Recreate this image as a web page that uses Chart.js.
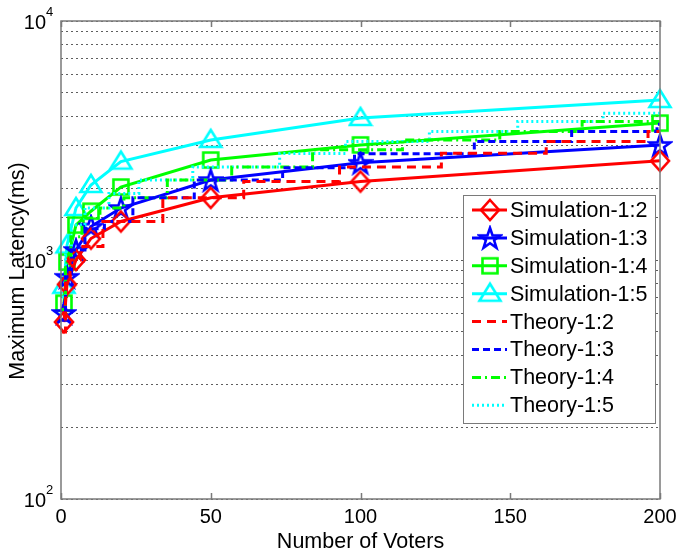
<!DOCTYPE html>
<html>
<head>
<meta charset="utf-8">
<script src="https://cdn.jsdelivr.net/npm/chart.js@4.4.1/dist/chart.umd.min.js"></script>
<style>
  body { margin: 0; background: #fff; }
  #wrap { width: 680px; height: 554px; }
</style>
</head>
<body>
<div id="wrap"><canvas id="latencyChart" width="680" height="554"></canvas></div>
<script>
'use strict';

// DATA
// simulation runs
const simVoters = [1, 2, 5, 10, 20, 50, 100, 200];
const sim12 = [550, 790, 1000, 1230, 1450, 1820, 2130, 2600];
const sim13 = [600, 850, 1100, 1380, 1650, 2160, 2550, 3030];
const sim14 = [660, 980, 1400, 1600, 2020, 2620, 3030, 3740];
const sim15 = [780, 1150, 1650, 2060, 2580, 3180, 3930, 4670];

// theory curves - each value holds until the next voter count
const theoryVoters12 = [0.3, 1.5, 3, 6.5, 14, 34, 61, 93, 127, 162, 196, 200];
const theory12 = [500, 800, 1000, 1140, 1450, 1820, 2130, 2450, 2800, 3130, 3450, 3450];
const theoryVoters13 = [0.3, 1.5, 3.5, 8, 14.5, 24, 44.5, 74, 98, 138, 170.5, 199, 200];
const theory13 = [560, 850, 1100, 1350, 1450, 1820, 2160, 2430, 2780, 3130, 3450, 3700, 3700];
const theoryVoters14 = [0.3, 1.5, 3.3, 7, 13, 21, 35.5, 57, 84, 114, 146.5, 174, 200];
const theory14 = [620, 950, 1250, 1500, 1650, 1820, 2160, 2450, 2890, 3180, 3450, 3800, 3800];
const theoryVoters15 = [0.3, 1.5, 3.5, 8, 16, 26, 44, 73, 95, 123, 152.5, 181, 200];
const theory15 = [700, 1050, 1400, 1650, 1900, 2160, 2450, 2790, 3130, 3450, 3800, 4110, 4110];

// axis ticks
const xTicks = [0, 50, 100, 150, 200];
const yDecades = [2, 3, 4];

const RED = '#ff0000';
const BLUE = '#0000ff';
const GREEN = '#00ff00';
const CYAN = '#00ffff';
const FONT = '"Liberation Sans", Arial, sans-serif';

const toPoints = (xs, ys) => xs.map((x, i) => ({ x: x, y: ys[i] }));

// MARKERS (hollow, drawn once into small canvases)
const makeMarker = function (color, drawPath) {
  const c = document.createElement('canvas');
  c.width = 26;
  c.height = 26;
  const g = c.getContext('2d');
  g.strokeStyle = color;
  g.lineWidth = 2.6;
  g.lineJoin = 'miter';
  g.beginPath();
  drawPath(g, 13, 13);
  g.closePath();
  g.stroke();
  return c;
};

const diamond = makeMarker(RED, function (g, cx, cy) {
  g.moveTo(cx, cy - 10);
  g.lineTo(cx + 9, cy);
  g.lineTo(cx, cy + 10);
  g.lineTo(cx - 9, cy);
});

const pentagram = makeMarker(BLUE, function (g, cx, cy) {
  for (let i = 0; i < 10; i++) {
    const r = i % 2 === 0 ? 11 : 4.3;
    const a = -Math.PI / 2 + (i * Math.PI) / 5;
    const px = cx + r * Math.cos(a);
    const py = cy + 1 + r * Math.sin(a);
    if (i === 0) g.moveTo(px, py);
    else g.lineTo(px, py);
  }
});

const square = makeMarker(GREEN, function (g, cx, cy) {
  g.rect(cx - 7.5, cy - 7.5, 15, 15);
});

const triangle = makeMarker(CYAN, function (g, cx, cy) {
  g.moveTo(cx, cy - 10);
  g.lineTo(cx + 10.5, cy + 7);
  g.lineTo(cx - 10.5, cy + 7);
});

const simSet = (label, ys, color, marker) => ({
  label: label,
  data: toPoints(simVoters, ys),
  borderColor: color,
  backgroundColor: color,
  borderWidth: 3,
  pointStyle: marker,
  pointRadius: 10,
  clip: false,
  order: 2,
});

const theorySet = (label, xs, ys, color, dash) => ({
  label: label,
  data: toPoints(xs, ys),
  borderColor: color,
  backgroundColor: color,
  borderWidth: 3,
  borderDash: dash,
  stepped: true,
  pointRadius: 0,
  clip: false,
  order: 1,
});

const datasets = [
  simSet('Simulation-1:2', sim12, RED, diamond),
  simSet('Simulation-1:3', sim13, BLUE, pentagram),
  simSet('Simulation-1:4', sim14, GREEN, square),
  simSet('Simulation-1:5', sim15, CYAN, triangle),
  theorySet('Theory-1:2', theoryVoters12, theory12, RED, [9, 6]),
  theorySet('Theory-1:3', theoryVoters13, theory13, BLUE, [7, 4]),
  theorySet('Theory-1:4', theoryVoters14, theory14, GREEN, [9, 4, 2, 4]),
  theorySet('Theory-1:5', theoryVoters15, theory15, CYAN, [2, 3]),
];

// AXES, BOX AND LEGEND
const frame = {
  id: 'frame',
  afterDatasetsDraw(chart) {
    const { ctx, chartArea: a, scales } = chart;
    const xs = scales.x;
    const ys = scales.y;
    ctx.save();

    // box
    ctx.strokeStyle = '#7a7a7a';
    ctx.lineWidth = 1.5;
    ctx.strokeRect(a.left, a.top, a.right - a.left, a.bottom - a.top);

    // inner x ticks, top and bottom
    ctx.beginPath();
    xTicks.forEach(function (t) {
      const px = Math.round(xs.getPixelForValue(t)) + 0.5;
      ctx.moveTo(px, a.bottom);
      ctx.lineTo(px, a.bottom - 6);
      ctx.moveTo(px, a.top);
      ctx.lineTo(px, a.top + 6);
    });
    ctx.stroke();

    // tick labels
    ctx.fillStyle = '#000';
    ctx.font = '20px ' + FONT;
    ctx.textAlign = 'center';
    ctx.textBaseline = 'middle';
    xTicks.forEach(function (t) {
      ctx.fillText(String(t), xs.getPixelForValue(t), a.bottom + 18);
    });

    yDecades.forEach(function (d) {
      const py = ys.getPixelForValue(Math.pow(10, d));
      ctx.font = '20px ' + FONT;
      ctx.textAlign = 'right';
      ctx.textBaseline = 'middle';
      ctx.fillText('10', a.left - 15, py + 2);
      ctx.font = '13px ' + FONT;
      ctx.textAlign = 'left';
      ctx.fillText(String(d), a.left - 15, py - 9);
    });

    // axis titles
    ctx.font = '21.5px ' + FONT;
    ctx.textAlign = 'center';
    ctx.textBaseline = 'middle';
    ctx.fillText('Number of Voters', (a.left + a.right) / 2, 542);
    ctx.translate(18, 271);
    ctx.rotate(-Math.PI / 2);
    ctx.fillText('Maximum Latency(ms)', 0, 0);
    ctx.restore();
  },
  afterDraw(chart) {
    const ctx = chart.ctx;
    const box = { left: 463, top: 195, width: 192, height: 228 };
    ctx.save();
    ctx.fillStyle = '#fff';
    ctx.fillRect(box.left, box.top, box.width, box.height);
    ctx.strokeStyle = '#7a7a7a';
    ctx.lineWidth = 1;
    ctx.strokeRect(box.left + 0.5, box.top + 0.5, box.width, box.height);

    chart.data.datasets.forEach(function (ds, i) {
      const y = box.top + 15 + i * 27.9;
      ctx.strokeStyle = ds.borderColor;
      ctx.lineWidth = 3;
      ctx.setLineDash(ds.borderDash || []);
      ctx.beginPath();
      ctx.moveTo(472, y);
      ctx.lineTo(507, y);
      ctx.stroke();
      ctx.setLineDash([]);
      if (ds.pointRadius > 0) {
        const m = ds.pointStyle;
        ctx.drawImage(m, 490 - m.width / 2, y - m.height / 2);
      }
      ctx.fillStyle = '#000';
      ctx.font = '21.5px ' + FONT;
      ctx.textAlign = 'left';
      ctx.textBaseline = 'middle';
      ctx.fillText(ds.label, 510, y + 1);
    });
    ctx.restore();
  },
};

// CHART
const ctx = document.getElementById('latencyChart').getContext('2d');

const chart = new Chart(ctx, {
  type: 'line',
  data: { datasets: datasets },
  options: {
    responsive: false,
    animation: false,
    devicePixelRatio: 1,
    layout: { padding: { left: 61, right: 20, top: 21, bottom: 55 } },
    plugins: {
      legend: { display: false },
      tooltip: { enabled: false },
    },
    scales: {
      x: {
        type: 'linear',
        min: 0,
        max: 200,
        grid: { display: false, drawTicks: false },
        border: { display: false },
        ticks: { display: false },
      },
      y: {
        type: 'logarithmic',
        min: 100,
        max: 10000,
        grid: { color: 'rgba(40,40,40,0.75)', lineWidth: 1, drawTicks: false },
        border: { display: false, dash: [2, 3] },
        ticks: { display: false },
      },
    },
  },
  plugins: [frame],
});
</script>
</body>
</html>
